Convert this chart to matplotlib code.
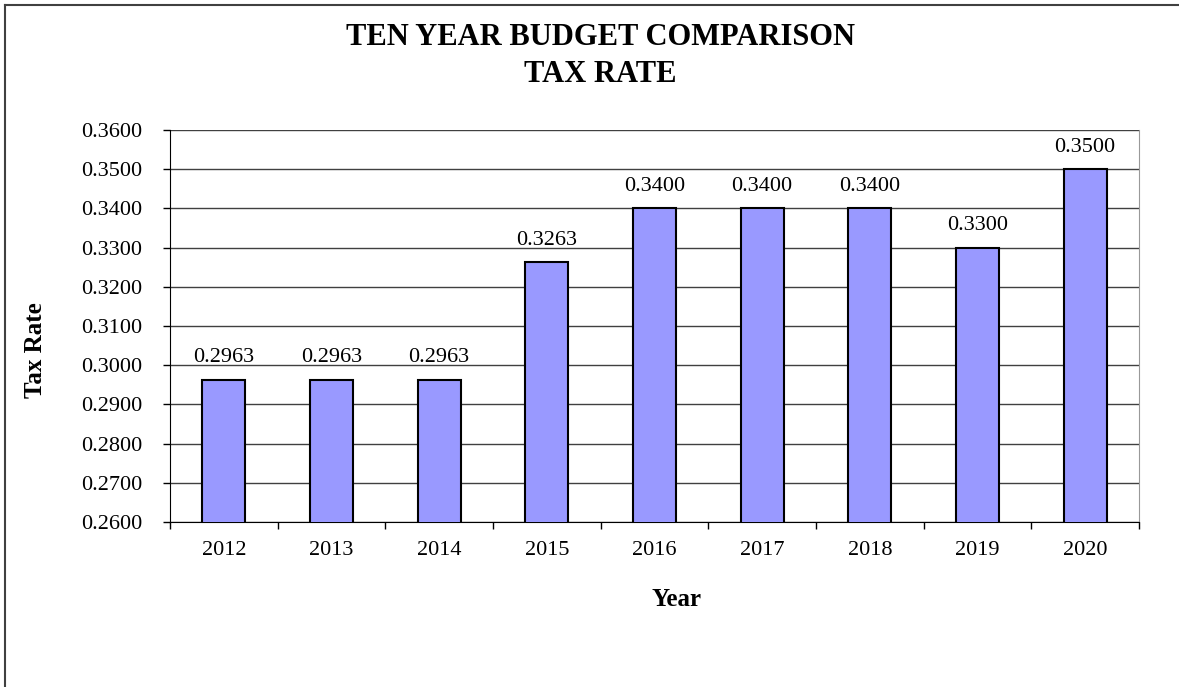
import matplotlib
matplotlib.use("Agg")
import matplotlib.pyplot as plt
from matplotlib.lines import Line2D
import numpy as np

years = ["2012", "2013", "2014", "2015", "2016", "2017", "2018", "2019", "2020"]
tax_rate = [0.2963, 0.2963, 0.2963, 0.3263, 0.3400, 0.3400, 0.3400, 0.3300, 0.3500]
y_ticks = [0.26, 0.27, 0.28, 0.29, 0.30, 0.31, 0.32, 0.33, 0.34, 0.35, 0.36]

plt.rcParams['font.family'] = ['Liberation Serif', 'DejaVu Serif']

W, H = 1179, 687
fig = plt.figure(figsize=(W/100, H/100), dpi=100)
ax = fig.add_axes([170/W, 1-522/H, (1139-170)/W, (522-130)/H])

x = np.arange(len(years))
ax.bar(x, tax_rate, width=0.4, color="#9999FF", edgecolor="black", linewidth=1.5, zorder=3)
for xi, v in zip(x, tax_rate):
    ax.annotate(f"{v:.4f}", (xi, v), xytext=(0, 9), textcoords="offset points",
                ha="center", va="bottom", fontsize=16)

ax.set_ylim(0.26, 0.36)
ax.set_xlim(-0.5, len(years) - 0.5)
ax.set_yticks(y_ticks)
ax.set_yticklabels([f"{t:.4f}" for t in y_ticks], fontsize=16)
ax.yaxis.grid(True, color="#404040", linewidth=1, zorder=0)
ax.set_axisbelow(True)

ax.set_xticks(x)
ax.set_xticklabels(years, fontsize=16)
ax.tick_params(axis="x", length=0, pad=14)
ax.set_xticks(np.arange(len(years) + 1) - 0.5, minor=True)
ax.tick_params(axis="x", which="minor", length=5, direction="out", width=1)
ax.tick_params(axis="y", length=5, direction="out", width=1, pad=15)

ax.spines["top"].set_visible(False)
ax.spines["right"].set_color("#999999")
ax.spines["left"].set_color("black")
ax.spines["bottom"].set_color("black")

ax.text(-(170-36)/969, (522-350)/392, "Tax Rate", transform=ax.transAxes, rotation=90,
        ha="center", va="center", fontsize=18, fontweight="bold")
ax.text((677-170)/969, -(600-522)/392, "Year", transform=ax.transAxes,
        ha="center", va="center", fontsize=18, fontweight="bold")

fig.text(600/W, 1-45/H, "TEN YEAR BUDGET COMPARISON", ha="center", va="baseline",
         fontsize=22, fontweight="bold")
fig.text(600/W, 1-82/H, "TAX RATE", ha="center", va="baseline",
         fontsize=22, fontweight="bold")

fig.add_artist(Line2D([5/W, 5/W], [0, 1-5/H], color="#404040", linewidth=1.5))
fig.add_artist(Line2D([5/W, 1], [1-5/H, 1-5/H], color="#404040", linewidth=1.5))

fig.savefig("out.png", dpi=100, facecolor="white")
